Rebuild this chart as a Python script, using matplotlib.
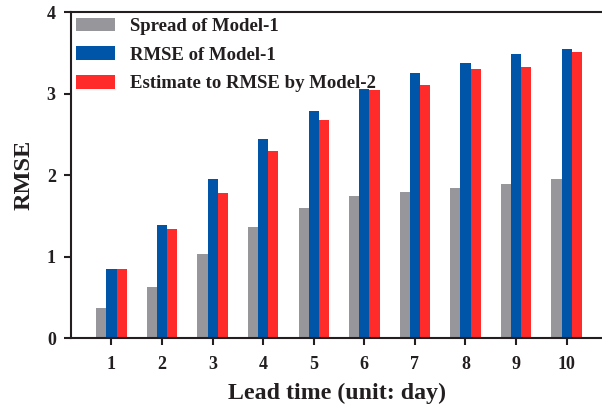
import numpy as np
import matplotlib
matplotlib.use("Agg")
import matplotlib.pyplot as plt

# ==========================================================
# DATA
# ==========================================================
lead_days = [1, 2, 3, 4, 5, 6, 7, 8, 9, 10]
spread_m1 = [0.37, 0.63, 1.03, 1.36, 1.60, 1.74, 1.79, 1.84, 1.89, 1.95]
rmse_m1 = [0.85, 1.39, 1.95, 2.44, 2.79, 3.05, 3.25, 3.38, 3.48, 3.54]
est_m2 = [0.85, 1.34, 1.78, 2.29, 2.68, 3.04, 3.11, 3.30, 3.32, 3.51]

labels = ["Spread of Model-1", "RMSE of Model-1", "Estimate to RMSE by Model-2"]
colors = ["#96969b", "#0055a8", "#ff2a2a"]

plt.rcParams['font.family'] = ['Liberation Serif', 'DejaVu Serif']
plt.rcParams['font.weight'] = 'bold'
txt = "#231f20"

fig = plt.figure(figsize=(6.02, 4.07), dpi=100)
ax = fig.add_axes([0.118, 0.1695, 0.882, 0.801])

x = np.array(lead_days)
w = 0.2
for off, vals, c, lab in zip([-w, 0, w], [spread_m1, rmse_m1, est_m2], colors, labels):
    ax.bar(x + off, vals, width=w, color=c, label=lab, linewidth=0)

ax.set_xlim(0.2, 10.7)
ax.set_ylim(0, 4)
ax.set_xticks(lead_days)
ax.set_yticks([0, 1, 2, 3, 4])
ax.tick_params(axis='both', labelsize=13, colors=txt, width=1.5, length=5, direction='out')
ax.tick_params(axis='x', pad=8)
ax.tick_params(axis='y', pad=6)
for t in ax.get_xticklabels() + ax.get_yticklabels():
    t.set_fontweight('bold')

for s in ['left', 'bottom', 'top']:
    ax.spines[s].set_linewidth(1.5)
    ax.spines[s].set_color(txt)
ax.spines['right'].set_visible(False)

ax.set_xlabel("Lead time (unit: day)", fontsize=17.2, fontweight='bold', color=txt, labelpad=7)
ax.set_ylabel("RMSE", fontsize=17.5, fontweight='bold', color=txt, labelpad=9)

leg = ax.legend(loc='upper left', bbox_to_anchor=(0.0, 0.997), frameon=False,
                handlelength=2.1, handleheight=0.75,
                handletextpad=0.8, labelspacing=0.6, borderaxespad=0.0,
                borderpad=0.25, prop={'weight': 'bold', 'size': 13.5})
for t in leg.get_texts():
    t.set_color(txt)

fig.savefig("out.png", dpi=100)
